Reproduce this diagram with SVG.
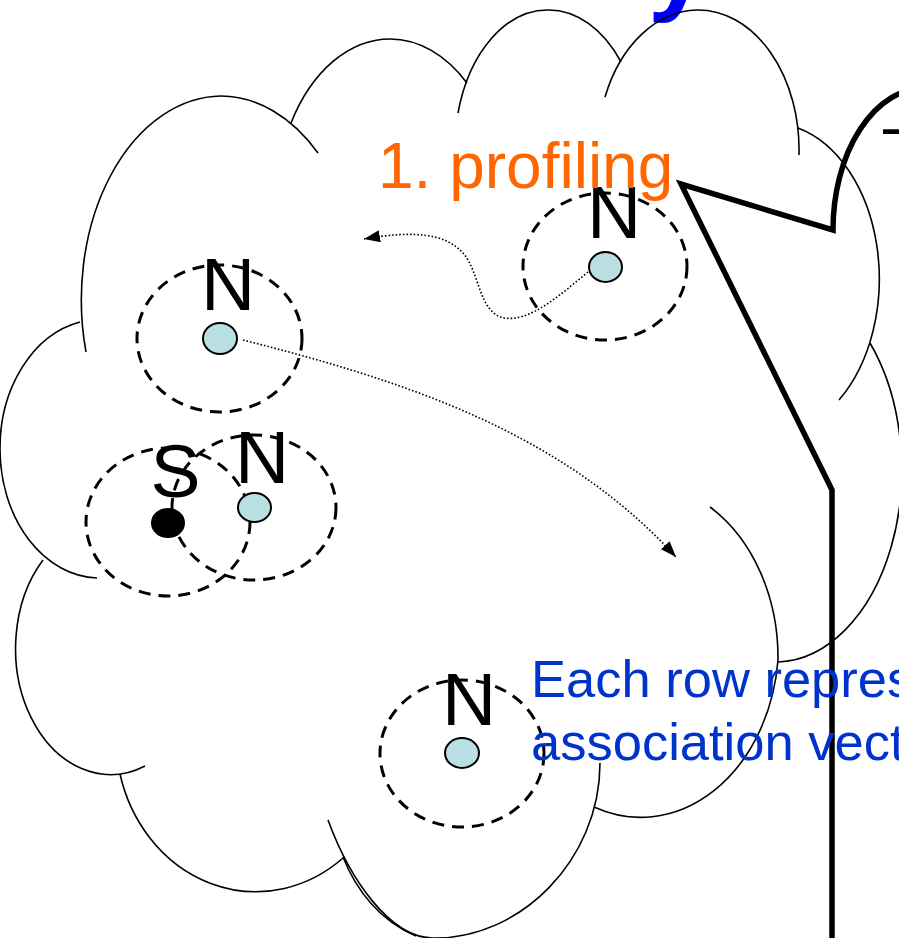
<svg xmlns="http://www.w3.org/2000/svg" width="899" height="938" viewBox="0 0 899 938">
  <defs>
    <style>
      .cloud{fill:none;stroke:#000;stroke-width:1.6}
      .range{fill:none;stroke:#000;stroke-width:3;stroke-dasharray:12 8}
      .node{fill:#BADFE2;stroke:#000;stroke-width:2}
      .src{fill:#000;stroke:#000;stroke-width:2}
      .lbl{font-family:"Liberation Sans",Arial,sans-serif;font-size:75px;fill:#000}
      .link{fill:none;stroke:#000;stroke-width:1.6;stroke-dasharray:1.6 2}
      .callout{fill:none;stroke:#000;stroke-width:5.5;stroke-linejoin:miter}
      .note{font-family:"Liberation Sans",Arial,sans-serif;font-size:52.5px;fill:#0033CC}
    </style>
    <marker id="head" markerUnits="userSpaceOnUse" markerWidth="16" markerHeight="12" viewBox="0 0 16 12" refX="16" refY="6" orient="auto">
      <path d="M0,0 L16,6 L0,12 z" fill="#000"/>
    </marker>
  </defs>

  <rect width="899" height="938" fill="#fff"/>

  <!-- heading (mostly above the visible area) -->
  <text x="648" y="1" font-family="Liberation Sans, Arial, sans-serif" font-weight="bold" font-size="108" fill="#0000FF">y</text>

  <!-- cloud outline built from overlapping lobes -->
  <g id="cloud">
    <path class="cloud" d="M86,352 A141,204 0 0 1 221,96 A141,204 0 0 1 318,153"/>
    <path class="cloud" d="M291,123 A115,171 0 0 1 390,39 A115,171 0 0 1 467,83"/>
    <path class="cloud" d="M458,113 A93,140 0 0 1 548,10 A93,140 0 0 1 621,62"/>
    <path class="cloud" d="M605,97 A101,140 0 0 1 697,10 A101,140 0 0 1 799,155"/>
    <path class="cloud" d="M798,128 A109,156 0 0 1 839,400"/>
    <path class="cloud" d="M870,343 A127,192 0 0 1 778,662"/>
    <path class="cloud" d="M710,507 A138,175 0 0 1 778,660 A138,175 0 0 1 594,807"/>
    <path class="cloud" d="M600,763 C600,860 520,940 432,938 C390,937 350,880 328,820"/>
    <path class="cloud" d="M343,857 C356,890 380,921 416,936"/>
    <path class="cloud" d="M343,858 A140,155 0 0 1 120,774"/>
    <path class="cloud" d="M145,766 A95,126 0 0 1 43,560"/>
    <path class="cloud" d="M97,578 A100,129 0 0 1 0,450 A100,129 0 0 1 80,322"/>
  </g>

  <!-- wedge callout on the right -->
  <g id="callout">
    <path class="callout" d="M832,938 L832,490 L681,184 L833,230 A92,142 0 0 1 925,88 L960,88"/>
    <text x="883" y="150" font-family="Liberation Sans, Arial, sans-serif" font-size="70" fill="#000">–</text>
  </g>

  <!-- radio ranges -->
  <g id="ranges">
    <ellipse class="range" cx="219.5" cy="338.5" rx="82.5" ry="73.5"/>
    <ellipse class="range" cx="605" cy="266.5" rx="82" ry="73.5"/>
    <ellipse class="range" cx="168" cy="522" rx="82" ry="74"/>
    <ellipse class="range" cx="254" cy="507.5" rx="82" ry="72.5"/>
    <ellipse class="range" cx="462" cy="753.5" rx="82" ry="73.5"/>
  </g>

  <!-- dotted movement paths -->
  <g id="connectors">
    <path class="link" marker-end="url(#head)" d="M588,272 C560,295 530,322 505,318 C478,314 480,270 462,252 C445,234 415,230 364,239"/>
    <path class="link" marker-end="url(#head)" d="M243,340 C400,380 560,430 676,557"/>
  </g>

  <g id="node-n1">
    <ellipse class="node" cx="220" cy="338.5" rx="17" ry="15.5"/>
    <text class="lbl" x="201" y="310">N</text>
  </g>
  <g id="node-n2">
    <ellipse class="node" cx="605.5" cy="267" rx="16.5" ry="15"/>
    <text class="lbl" x="587" y="238">N</text>
  </g>
  <g id="node-n3">
    <ellipse class="node" cx="254.5" cy="507.5" rx="16.5" ry="14.5"/>
    <text class="lbl" x="235" y="483">N</text>
  </g>
  <g id="node-s">
    <ellipse class="src" cx="168" cy="523" rx="16" ry="14"/>
    <text class="lbl" x="150.5" y="497">S</text>
  </g>
  <g id="node-n4">
    <ellipse class="node" cx="462" cy="753" rx="17" ry="15"/>
    <text class="lbl" x="442" y="725">N</text>
  </g>

  <text x="378" y="188" font-family="Liberation Sans, Arial, sans-serif" font-size="64" fill="#FF6600">1. profiling</text>

  <text class="note" x="531" y="697">Each row repres</text>
  <text class="note" x="531" y="760">association vect</text>
</svg>
